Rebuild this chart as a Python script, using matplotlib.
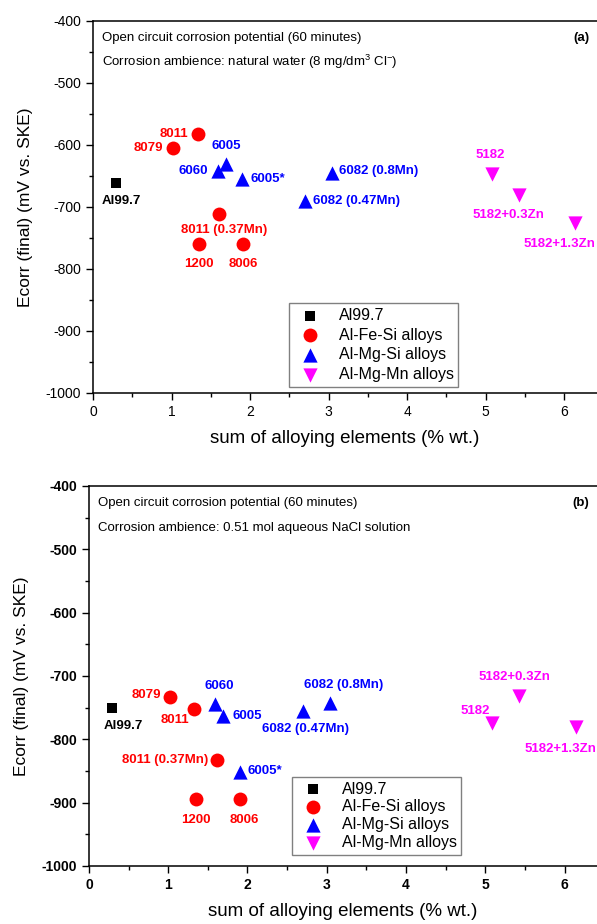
import numpy as np
import matplotlib
matplotlib.use('Agg')
import matplotlib.pyplot as plt
from matplotlib.ticker import MultipleLocator

plt.rcParams['font.family'] = ['Liberation Sans', 'DejaVu Sans']
plt.rcParams['mathtext.fontset'] = 'custom'
plt.rcParams['mathtext.rm'] = 'Liberation Sans'
plt.rcParams['mathtext.default'] = 'regular'
plt.rcParams['axes.unicode_minus'] = False

# alloy names and sum of alloying elements (% wt.)
pure_names = ['Al99.7']
pure_x = [0.29]
fesi_names = ['8079', '8011', '8011 (0.37Mn)', '1200', '8006']
fesi_x = [1.02, 1.33, 1.61, 1.35, 1.91]
mgsi_names = ['6060', '6005', '6005*', '6082 (0.47Mn)', '6082 (0.8Mn)']
mgsi_x = [1.59, 1.69, 1.90, 2.70, 3.04]
mgmn_names = ['5182', '5182+0.3Zn', '5182+1.3Zn']
mgmn_x = [5.08, 5.42, 6.14]

# (a) natural water, Ecorr in mV
a_pure_y = [-662]
a_fesi_y = [-605, -582, -711, -760, -760]
a_mgsi_y = [-642, -630, -655, -690, -645]
a_mgmn_y = [-647, -681, -726]

# (b) 0.51 mol NaCl, Ecorr in mV
b_pure_y = [-750]
b_fesi_y = [-733, -752, -833, -894, -894]
b_mgsi_y = [-745, -763, -852, -755, -743]
b_mgmn_y = [-775, -732, -781]

# label offsets (points) per panel
a_offsets = {
    'Al99.7': (4, -13, 'center'), '8079': (-7, 0, 'right'), '8011': (-7, 0, 'right'),
    '8011 (0.37Mn)': (3, -12, 'center'), '1200': (0, -14, 'center'), '8006': (0, -14, 'center'),
    '6060': (-7, 0, 'right'), '6005': (0, 13, 'center'), '6005*': (6, 0, 'left'),
    '6082 (0.47Mn)': (6, 0, 'left'), '6082 (0.8Mn)': (5, 1, 'left'),
    '5182': (-1, 14, 'center'), '5182+0.3Zn': (-7, -14, 'center'), '5182+1.3Zn': (-11, -15, 'center'),
}
b_offsets = {
    'Al99.7': (8, -13, 'center'), '8079': (-6, 1, 'right'), '8011': (-14, -8, 'center'),
    '8011 (0.37Mn)': (-6, 0, 'right'), '1200': (0, -15, 'center'), '8006': (3, -15, 'center'),
    '6060': (3, 13, 'center'), '6005': (7, 0, 'left'), '6005*': (6, 1, 'left'),
    '6082 (0.47Mn)': (2, -13, 'center'), '6082 (0.8Mn)': (10, 13, 'center'),
    '5182': (-12, 9, 'center'), '5182+0.3Zn': (-3, 14, 'center'), '5182+1.3Zn': (-11, -16, 'center'),
}

groups = [
    ('Al99.7', pure_names, pure_x, 'black', 's', 50),
    ('Al-Fe-Si alloys', fesi_names, fesi_x, 'red', 'o', 100),
    ('Al-Mg-Si alloys', mgsi_names, mgsi_x, 'blue', '^', 105),
    ('Al-Mg-Mn alloys', mgmn_names, mgmn_x, '#ff00ff', 'v', 105),
]

fig = plt.figure(figsize=(5.97, 9.24), dpi=100)
ax_a = fig.add_axes([0.156, 0.5747, 0.844, 0.4026])
ax_b = fig.add_axes([0.149, 0.0628, 0.851, 0.4113])

panels = [
    (ax_a, [a_pure_y, a_fesi_y, a_mgsi_y, a_mgmn_y], a_offsets,
     'Corrosion ambience: natural water (8 mg/dm$^{3}$ Cl$^{-}$)', '(a)', 6.42, (0.389, 0.016), 0.3, 'normal'),
    (ax_b, [b_pure_y, b_fesi_y, b_mgsi_y, b_mgmn_y], b_offsets,
     'Corrosion ambience: 0.51 mol aqueous NaCl solution', '(b)', 6.41, (0.40, 0.029), 0.18, 'bold'),
]

for ax, ys, offs, ambience, tag, xmax, legpos, lsp, tickweight in panels:
    for (lab, names, xs, col, mk, sz), yv in zip(groups, ys):
        ax.scatter(xs, yv, s=sz, c=col, marker=mk, label=lab, zorder=3, linewidths=0)
        for n, x, y in zip(names, xs, yv):
            dx, dy, ha = offs[n]
            ax.annotate(n, (x, y), xytext=(dx, dy), textcoords='offset points',
                        ha=ha, va='center', color=col, fontsize=9.5, fontweight='bold')

    ax.set_xlim(0, xmax)
    ax.set_ylim(-1000, -400)
    ax.xaxis.set_major_locator(MultipleLocator(1))
    ax.xaxis.set_minor_locator(MultipleLocator(0.5))
    ax.yaxis.set_major_locator(MultipleLocator(100))
    ax.yaxis.set_minor_locator(MultipleLocator(50))
    ax.tick_params(which='major', direction='out', length=5, width=1, labelsize=10)
    ax.tick_params(which='minor', direction='out', length=3, width=1)
    for t in ax.get_xticklabels() + ax.get_yticklabels():
        t.set_fontweight(tickweight)
    ax.spines['right'].set_visible(False)
    for s in ['top', 'left', 'bottom']:
        ax.spines[s].set_linewidth(1.1)

    ax.text(0.018, 0.955, 'Open circuit corrosion potential (60 minutes)', transform=ax.transAxes,
            fontsize=9.5, va='center', ha='left')
    ax.text(0.018, 0.89, ambience, transform=ax.transAxes, fontsize=9.5, va='center', ha='left')
    ax.text(0.985, 0.955, tag, transform=ax.transAxes, fontsize=9.5, fontweight='bold',
            va='center', ha='right')

    ax.set_xlabel('sum of alloying elements (% wt.)', fontsize=13.5, labelpad=8)
    ax.set_ylabel('Ecorr (final) (mV vs. SKE)', fontsize=12.5, labelpad=9)

    leg = ax.legend(loc='lower left', bbox_to_anchor=legpos, borderaxespad=0, fontsize=11.5,
                    fancybox=False, edgecolor='gray', framealpha=1, labelspacing=lsp,
                    handletextpad=0.8, borderpad=0.3, scatterpoints=1)
    leg.get_frame().set_linewidth(1.0)

plt.savefig('out.png', dpi=100)
plt.close()
